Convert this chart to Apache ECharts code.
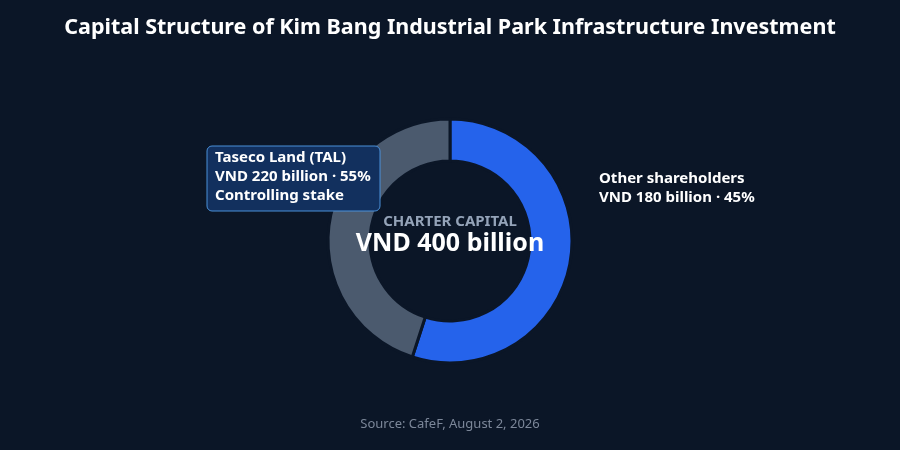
<!DOCTYPE html>
<html><head><meta charset="utf-8">
<script src="https://cdn.jsdelivr.net/npm/echarts@6/dist/echarts.min.js"></script>
<style>html,body{margin:0;padding:0;background:#0b1627;}#c{width:900px;height:450px;}</style>
</head><body><div id="c"></div>
<script>
const names = ['Taseco Land (TAL)', 'Other shareholders'];
const values = [220, 180];
const shares = ['55%', '45%'];
const notes = ['Controlling stake', ''];
const colors = ['#2563eb', '#4b5a6e'];
const F = '"Noto Sans", sans-serif';
const chart = echarts.init(document.getElementById('c'));
chart.setOption({
  backgroundColor: '#0b1627',
  title: {text: 'Capital Structure of Kim Bang Industrial Park Infrastructure Investment', left: 'center', top: 12,
    textStyle: {color: '#ffffff', fontSize: 21.5, fontWeight: 'bold', fontFamily: F}},
  series: [{
    type: 'pie', center: [450, 241], radius: [80, 122], startAngle: 90, clockwise: true,
    label: {show: false}, labelLine: {show: false}, silent: true,
    itemStyle: {borderColor: '#0b1627', borderWidth: 3},
    data: names.map((n, i) => ({name: n, value: values[i], itemStyle: {color: colors[i]}}))
  }],
  graphic: [
    {type: 'text', z: 100, left: 'center', top: 214, style: {text: 'CHARTER CAPITAL', fill: '#94a3b8', font: 'bold 15px ' + F}},
    {type: 'text', z: 100, left: 'center', top: 231, style: {text: 'VND ' + (values[0] + values[1]) + ' billion', fill: '#ffffff', font: 'bold 25px ' + F}},
    {type: 'rect', z: 100, shape: {x: 207, y: 146, width: 173, height: 65, r: 5},
      style: {fill: '#12305e', stroke: '#4a90d9', lineWidth: 1}},
    {type: 'text', z: 101, x: 215, y: 148, style: {text: names[0] + '\nVND ' + values[0] + ' billion · ' + shares[0] + '\n' + notes[0],
      fill: '#ffffff', font: 'bold 15px ' + F, lineHeight: 19}},
    {type: 'text', z: 100, x: 599, y: 169, style: {text: names[1] + '\nVND ' + values[1] + ' billion · ' + shares[1],
      fill: '#ffffff', font: 'bold 15px ' + F, lineHeight: 19}},
    {type: 'text', z: 100, left: 'center', top: 418, style: {text: 'Source: CafeF, August 2, 2026', fill: '#7c8799', font: '13px ' + F}}
  ]
});
</script></body></html>
